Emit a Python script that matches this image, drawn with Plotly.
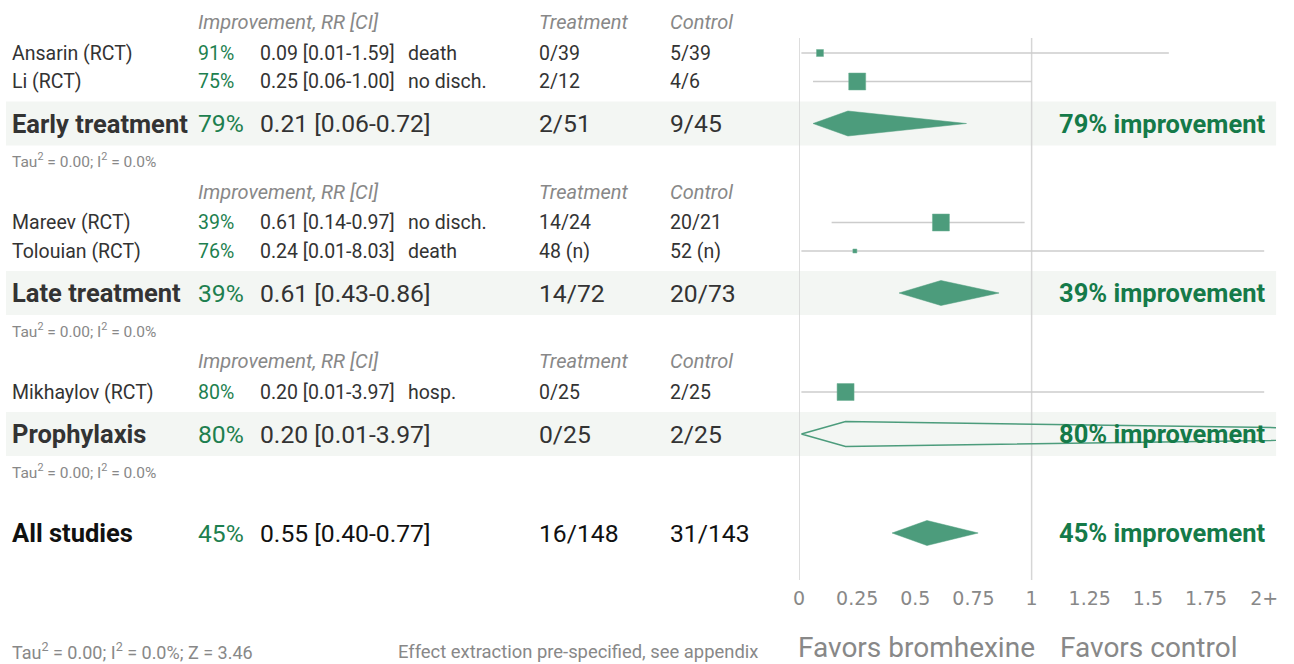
import plotly.graph_objects as go

# ---- data -------------------------------------------------------------
studies = ["Ansarin (RCT)", "Li (RCT)", "Mareev (RCT)", "Tolouian (RCT)", "Mikhaylov (RCT)"]
study_group = ["Early treatment", "Early treatment", "Late treatment", "Late treatment", "Prophylaxis"]
rr = [0.09, 0.25, 0.61, 0.24, 0.20]
ci_lo = [0.01, 0.06, 0.14, 0.01, 0.01]
ci_hi = [1.59, 1.00, 0.97, 8.03, 3.97]
outcome = ["death", "no disch.", "no disch.", "death", "hosp."]
treatment = ["0/39", "2/12", "14/24", "48 (n)", "0/25"]
control = ["5/39", "4/6", "20/21", "52 (n)", "2/25"]

groups = ["Early treatment", "Late treatment", "Prophylaxis"]
group_rr = [0.21, 0.61, 0.20]
group_lo = [0.06, 0.43, 0.01]
group_hi = [0.72, 0.86, 3.97]
group_treatment = ["2/51", "14/72", "0/25"]
group_control = ["9/45", "20/73", "2/25"]
group_stats = ["Tau<sup>2</sup> = 0.00; I<sup>2</sup> = 0.0%"] * 3

all_rr, all_lo, all_hi = 0.55, 0.40, 0.77
all_treatment, all_control = "16/148", "31/143"
overall_stats = "Tau<sup>2</sup> = 0.00; I<sup>2</sup> = 0.0%; Z = 3.46"

tick_vals = [0, 0.25, 0.5, 0.75, 1, 1.25, 1.5, 1.75, 2]
tick_text = ["0", "0.25", "0.5", "0.75", "1", "1.25", "1.5", "1.75", "2+"]

# ---- styling ----------------------------------------------------------
W, H = 1294, 664
X0_PX, X1_PX, PX_PER_UNIT = 798, 1278, 234
FONT = "Roboto"
DARK, GRAY, GREEN, GREEN_B, MARK = "#333333", "#888888", "#1d7f4f", "#157a49", "#4c9c7c"
BAND = "#f3f6f3"
CI_MAX = 2.0
square_size = [7, 17, 17, 4, 17]
ROW, HEAD, SUMM, SUMM_B = 19.5, 20, 24.7, 25.5
PAD = 8  # annotation inner padding to compensate
COL = dict(name=12, imp=199, rr=262, outcome=410, treat=542, ctrl=674)


def px(x):
    return x / W


def pct(v):
    return f"{round((1 - v) * 100)}%"


def rr_text(v, lo, hi):
    return f"{v:.2f} [{lo:.2f}-{hi:.2f}]"


fig = go.Figure()
ann = []
shapes = []


def label(x, y, text, size, color=DARK, bold=False, italic=False, anchor="left",
          family=FONT):
    if bold:
        text = f"<b>{text}</b>"
    if italic:
        text = f"<i>{text}</i>"
    shift = -PAD if anchor == "left" else (3 if anchor == "right" else 0)
    ann.append(dict(x=px(x + shift), y=y, xref="paper", yref="y", text=text,
                    showarrow=False, xanchor=anchor, yanchor="middle",
                    font=dict(family=family, size=size, color=color)))


def diamond(y, c, lo, hi, filled=True, half=12.5):
    fig.add_trace(go.Scatter(
        x=[lo, c, hi, c, lo], y=[y, y - half, y, y + half, y],
        mode="lines", fill="toself" if filled else "none",
        fillcolor=MARK, line=dict(color=MARK, width=1.5 if not filled else 0.5),
        hoverinfo="skip", showlegend=False))


# ---- rows -------------------------------------------------------------
y = 22.0
for g, grp in enumerate(groups):
    label(COL["imp"], y, "Improvement, RR [CI]", HEAD, GRAY, italic=True)
    label(COL["treat"], y, "Treatment", HEAD, GRAY, italic=True)
    label(COL["ctrl"], y, "Control", HEAD, GRAY, italic=True)
    ys = []
    yy = y + 31
    for i, s in enumerate(studies):
        if study_group[i] != grp:
            continue
        ys.append(yy)
        label(COL["name"], yy, s, ROW)
        label(COL["imp"], yy, pct(rr[i]), ROW, GREEN)
        label(COL["rr"], yy, rr_text(rr[i], ci_lo[i], ci_hi[i]), ROW)
        label(COL["outcome"], yy, outcome[i], ROW)
        label(COL["treat"], yy, treatment[i], ROW)
        label(COL["ctrl"], yy, control[i], ROW)
        fig.add_trace(go.Scatter(
            x=[ci_lo[i], min(ci_hi[i], CI_MAX)], y=[yy, yy], mode="lines",
            line=dict(color="#cccccc", width=1.5), hoverinfo="skip", showlegend=False))
        fig.add_trace(go.Scatter(
            x=[rr[i]], y=[yy], mode="markers",
            marker=dict(symbol="square", size=square_size[i], color=MARK,
                        line=dict(color="#6fb094", width=0.5)),
            hoverinfo="skip", showlegend=False))
        yy += 28.5
    sy = ys[-1] + 42
    shapes.append(dict(type="rect", xref="paper", yref="y", x0=0, x1=px(X1_PX),
                       y0=sy - 22, y1=sy + 22, fillcolor=BAND, line=dict(width=0),
                       layer="below"))
    label(COL["name"], sy, grp, SUMM_B, DARK, bold=True)
    label(COL["imp"], sy, pct(group_rr[g]), SUMM, GREEN)
    label(COL["rr"], sy, rr_text(group_rr[g], group_lo[g], group_hi[g]), SUMM)
    label(COL["treat"], sy, group_treatment[g], SUMM)
    label(COL["ctrl"], sy, group_control[g], SUMM)
    label(1266, sy, f"{pct(group_rr[g])} improvement", SUMM_B, GREEN_B, bold=True,
          anchor="right")
    diamond(sy, group_rr[g], group_lo[g], group_hi[g],
            filled=group_hi[g] <= CI_MAX)
    ty = sy + 37
    label(COL["name"], ty, group_stats[g], 15.5, GRAY)
    y = ty + 31

# overall
ay = 533
label(COL["name"], ay, "All studies", SUMM_B, "#111111", bold=True)
label(COL["imp"], ay, pct(all_rr), SUMM, GREEN)
label(COL["rr"], ay, rr_text(all_rr, all_lo, all_hi), SUMM, "#111111")
label(COL["treat"], ay, all_treatment, SUMM, "#111111")
label(COL["ctrl"], ay, all_control, SUMM, "#111111")
label(1266, ay, f"{pct(all_rr)} improvement", SUMM_B, GREEN_B, bold=True, anchor="right")
diamond(ay, all_rr, all_lo, all_hi)

# footer
label(COL["name"], 651, overall_stats, 18, GRAY)
label(400, 651, "Effect extraction pre-specified, see appendix", 18.4, GRAY)
label(916, 647, "Favors bromhexine", 28, GRAY, anchor="center")
label(1150, 647, "Favors control", 28, GRAY, anchor="center")

# reference lines at RR = 0 and RR = 1
for xv in (0, 1):
    shapes.append(dict(type="line", xref="x", yref="y", x0=xv, x1=xv, y0=38, y1=580,
                       line=dict(color="#d6d6d6", width=1.5), layer="below"))

fig.update_layout(
    width=W, height=H, margin=dict(l=0, r=0, t=0, b=0),
    plot_bgcolor="rgba(0,0,0,0)", paper_bgcolor="white",
    annotations=ann, shapes=shapes,
    xaxis=dict(domain=[px(X0_PX), px(X1_PX)],
               range=[0, (X1_PX - X0_PX) / PX_PER_UNIT],
               anchor="free", position=(H - 585) / H,
               tickvals=tick_vals, ticktext=tick_text, ticks="",
               showgrid=False, zeroline=False, showline=False,
               tickfont=dict(family="DejaVu Sans", size=19, color=GRAY),
               fixedrange=True),
    yaxis=dict(domain=[0, 1], range=[H, 0], visible=False, fixedrange=True),
)

fig.write_html("out.html")
